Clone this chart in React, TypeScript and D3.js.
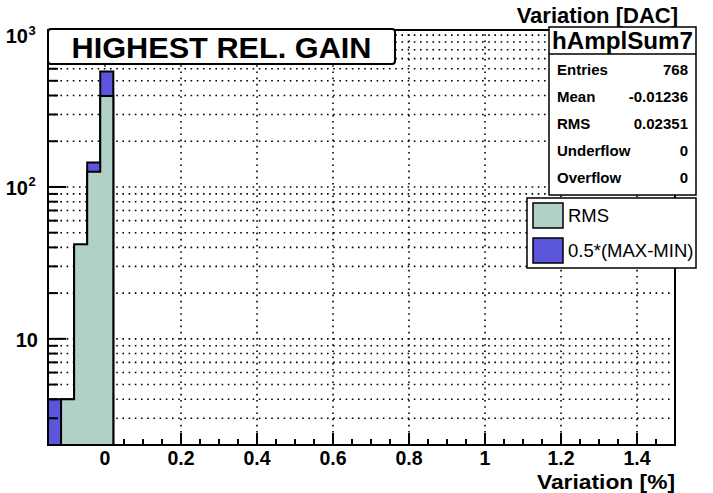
import React from 'react';
import * as d3 from 'd3';

const binEdges = [-0.15, -0.115625, -0.08125, -0.046875, -0.0125, 0.021875];
const rmsCounts = [0, 4, 42, 126, 397];
const maxMinCounts = [4, 4, 40, 145, 575];
const xMajorTicks = [0, 0.2, 0.4, 0.6, 0.8, 1, 1.2, 1.4];
const xTickLabels = ['0', '0.2', '0.4', '0.6', '0.8', '1', '1.2', '1.4'];
const yMajorTicks = [10, 100, 1000];
const yTickExponents = ['', '2', '3'];
const yMinorTicks = [3, 4, 5, 6, 7, 8, 9, 20, 30, 40, 50, 60, 70, 80, 90, 200, 300, 400, 500, 600, 700, 800, 900];
const statsLabels = ['Entries', 'Mean', 'RMS', 'Underflow', 'Overflow'];
const statsValues = ['768', '-0.01236', '0.02351', '0', '0'];
const legendLabels = ['RMS', '0.5*(MAX-MIN)'];

const W = 713, H = 493;
const FL = 48, FR = 675, FT = 30, FB = 445;
const GREEN = '#b0d0c8';
const BLUE = '#5b55dc';
const FONT = '"Liberation Sans", Arial, Helvetica, sans-serif';

export default function App() {
  const x = d3.scaleLinear().domain([-0.15, 1.5]).range([FL, FR]);
  const y = d3.scaleLog().domain([2, 1080]).range([FB, FT]);
  const xMinor = d3.range(-0.1, 1.5, 0.05).filter(v => !xMajorTicks.some(m => Math.abs(m - v) < 1e-6));

  const stepPath = (counts: number[]) => {
    const pts: [number, number][] = [[x(binEdges[0]), y(2)]];
    counts.forEach((c, i) => {
      const v = c > 0 ? c : 2;
      pts.push([x(binEdges[i]), y(v)]);
      pts.push([x(binEdges[i + 1]), y(v)]);
    });
    pts.push([x(binEdges[binEdges.length - 1]), y(2)]);
    return d3.line()(pts) + 'Z';
  };

  const dotted = { stroke: '#000', strokeWidth: 1.6, strokeDasharray: '1.6 4.6' };
  const allY = [...yMajorTicks, ...yMinorTicks];

  return (
    <svg width={W} height={H} style={{ position: 'absolute', left: 0, top: 0, background: '#fff' }} fontFamily={FONT}>
      <rect x={0} y={0} width={W} height={H} fill="#fff" />
      {allY.map(v => (
        <line key={'gy' + v} x1={FL} x2={FR} y1={y(v)} y2={y(v)} {...dotted} />
      ))}
      {xMajorTicks.map(v => (
        <line key={'gx' + v} x1={x(v)} x2={x(v)} y1={FB} y2={FT} {...dotted} />
      ))}
      <path d={stepPath(maxMinCounts)} fill={BLUE} stroke="#000" strokeWidth={2} />
      {xMajorTicks.map(v => (
        <line key={'xt' + v} x1={x(v)} x2={x(v)} y1={FB} y2={FB - 12} stroke="#000" strokeWidth={2} />
      ))}
      {xMinor.map(v => (
        <line key={'xm' + v} x1={x(v)} x2={x(v)} y1={FB} y2={FB - 6} stroke="#000" strokeWidth={2} />
      ))}
      {yMajorTicks.map(v => (
        <line key={'yt' + v} x1={FL} x2={FL + 18} y1={y(v)} y2={y(v)} stroke="#000" strokeWidth={2} />
      ))}
      {yMinorTicks.map(v => (
        <line key={'ym' + v} x1={FL} x2={FL + 10} y1={y(v)} y2={y(v)} stroke="#000" strokeWidth={2} />
      ))}
      <path d={stepPath(rmsCounts)} fill={GREEN} stroke="#000" strokeWidth={2} />
      <rect x={FL} y={FT} width={FR - FL} height={FB - FT} fill="none" stroke="#000" strokeWidth={2} />
      {xMajorTicks.map((v, i) => (
        <text key={'xl' + v} x={x(v)} y={465} textAnchor="middle" fontSize={19.5} fontWeight="bold">{xTickLabels[i]}</text>
      ))}
      {yMajorTicks.map((v, i) => (
        <text key={'yl' + v} x={yTickExponents[i] ? 28 : 38} y={y(v) + 8} textAnchor="end" fontSize={20} fontWeight="bold">
          10
        </text>
      ))}
      {yMajorTicks.map((v, i) => yTickExponents[i] ? (
        <text key={'ye' + v} x={28.5} y={y(v) - 0.5} fontSize={13} fontWeight="bold">{yTickExponents[i]}</text>
      ) : null)}
      <text x={675} y={489} textAnchor="end" fontSize={21} fontWeight="bold" textLength={138} lengthAdjust="spacingAndGlyphs">Variation [%]</text>
      <text x={678} y={23} textAnchor="end" fontSize={22} fontWeight="bold">Variation [DAC]</text>
      <rect x={48} y={29} width={347} height={35} rx={3} fill="#fff" stroke="#000" strokeWidth={2} />
      <text x={221.5} y={58} textAnchor="middle" fontSize={29} fontWeight="bold" textLength={300} lengthAdjust="spacingAndGlyphs">HIGHEST REL. GAIN</text>
      <rect x={549} y={27} width={147} height={168} fill="#fff" stroke="#000" strokeWidth={1.5} />
      <line x1={549} x2={696} y1={54} y2={54} stroke="#000" strokeWidth={1.5} />
      <text x={552} y={49} fontSize={24} fontWeight="bold" textLength={141} lengthAdjust="spacingAndGlyphs">hAmplSum7</text>
      {statsLabels.map((s, i) => (
        <g key={s}>
          <text x={557} y={75 + i * 27} fontSize={15} fontWeight="bold">{s}</text>
          <text x={688} y={75 + i * 27} fontSize={15} fontWeight="bold" textAnchor="end">{statsValues[i]}</text>
        </g>
      ))}
      <rect x={527} y={198} width={169} height={70} fill="#fff" stroke="#000" strokeWidth={1.5} />
      {legendLabels.map((s, i) => (
        <g key={s}>
          <rect x={533} y={203 + i * 35} width={30} height={25} fill={i === 0 ? GREEN : BLUE} stroke="#000" strokeWidth={1.5} />
          <text x={568} y={222 + i * 35} fontSize={18.5}>{s}</text>
        </g>
      ))}
    </svg>
  );
}
